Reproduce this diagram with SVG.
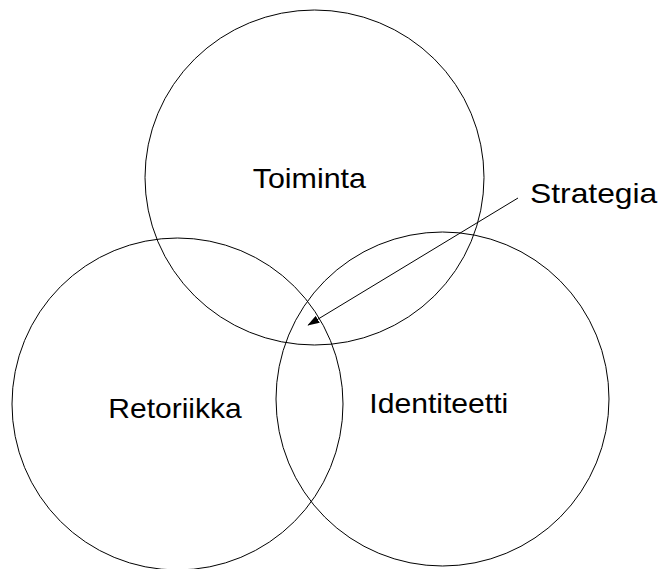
<svg xmlns="http://www.w3.org/2000/svg" width="662" height="569" viewBox="0 0 662 569">
<style>
.c{fill:none;stroke:#000;stroke-width:1}
.t{font-family:"Liberation Sans",Arial,sans-serif;font-size:28px;fill:#000}
</style>
<defs>
<marker id="ah" markerWidth="12" markerHeight="8" refX="11" refY="4" orient="auto" markerUnits="userSpaceOnUse">
<path d="M0,0 L12,4 L0,8 Z" fill="#000"/>
</marker>
</defs>
<rect width="662" height="569" fill="#fff"/>
<g id="toiminta"><ellipse class="c" cx="314.5" cy="177.5" rx="169.5" ry="167.5"/><text class="t" x="252.7" y="188.3" textLength="113.3" lengthAdjust="spacingAndGlyphs">Toiminta</text></g>
<g id="retoriikka"><ellipse class="c" cx="177.5" cy="404" rx="165.5" ry="166"/><text class="t" x="108.3" y="418.3" textLength="133.4" lengthAdjust="spacingAndGlyphs">Retoriikka</text></g>
<g id="identiteetti"><ellipse class="c" cx="442.5" cy="399" rx="166.5" ry="167"/><text class="t" x="369.3" y="413.3" textLength="139" lengthAdjust="spacingAndGlyphs">Identiteetti</text></g>
<g id="strategia"><text class="t" x="530" y="203.3" textLength="127.3" lengthAdjust="spacingAndGlyphs">Strategia</text></g>
<g id="connectors"><line x1="518" y1="198" x2="308.3" y2="325" stroke="#000" stroke-width="1" marker-end="url(#ah)"/></g>
</svg>
